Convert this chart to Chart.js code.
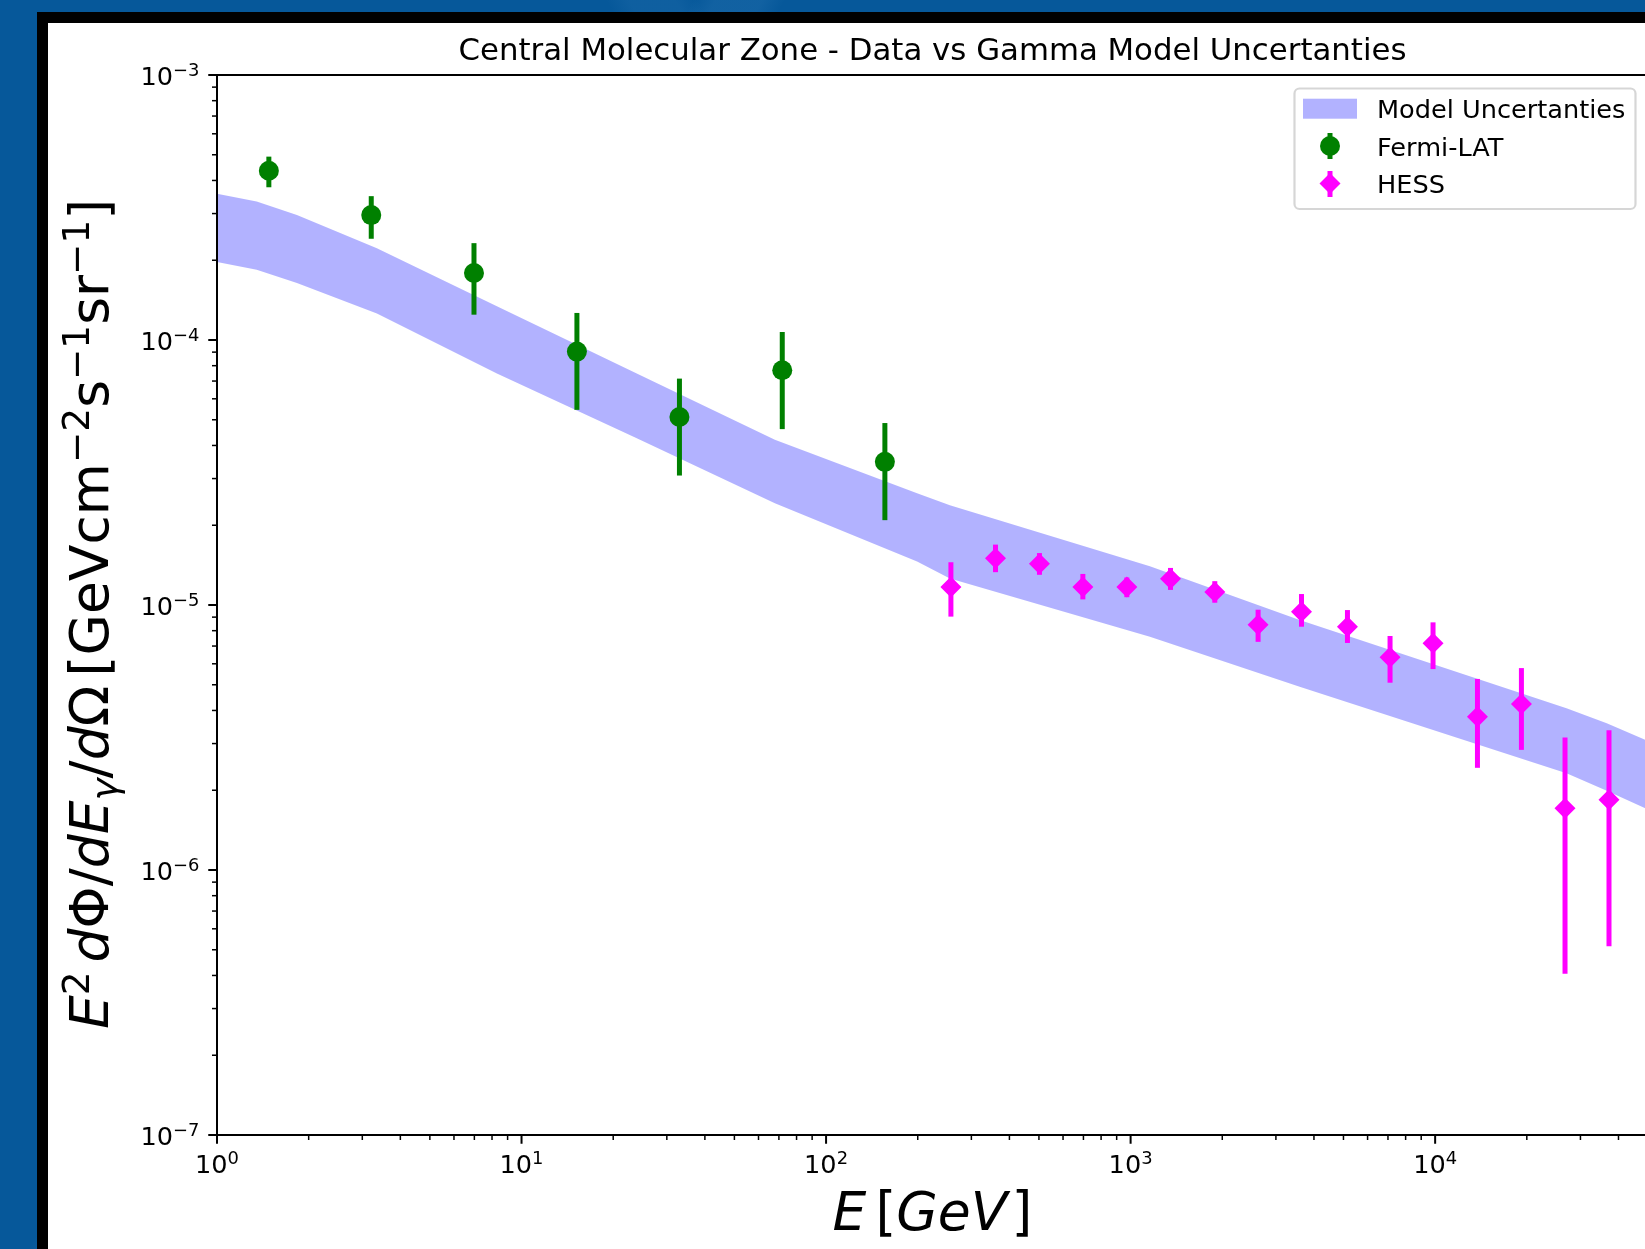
<!DOCTYPE html>
<html>
<head>
<meta charset="utf-8">
<script src="https://cdn.jsdelivr.net/npm/chart.js@4/dist/chart.umd.min.js"></script>
<style>
  html, body { margin: 0; padding: 0; width: 1645px; height: 1249px; overflow: hidden; }
  body {
    background-color: #06589a;
    background-image:
      linear-gradient(118deg, rgba(255,255,255,0) 0 30%, rgba(120,180,230,0.10) 31% 33%, rgba(255,255,255,0) 34% 100%),
      linear-gradient(62deg, rgba(255,255,255,0) 0 55%, rgba(120,180,230,0.08) 56% 58%, rgba(255,255,255,0) 59% 100%),
      linear-gradient(160deg, rgba(255,255,255,0) 0 70%, rgba(120,180,230,0.07) 71% 74%, rgba(255,255,255,0) 75% 100%);
    position: relative;
  }
  #frame { position: absolute; left: 37px; top: 12px; width: 3000px; height: 3000px;
    background: #ffffff; border-left: 11px solid #000; border-top: 11px solid #000; }
  #c { position: absolute; left: 0; top: 0; }
</style>
</head>
<body>
<div id="frame"></div>
<canvas id="c" width="1700" height="1249"></canvas>
<script>
// ---------------- data ----------------
const titleText = 'Central Molecular Zone - Data vs Gamma Model Uncertanties';
const legendLabels = ['Model Uncertanties', 'Fermi-LAT', 'HESS'];

const modelEnergy = [1, 1.35, 1.83, 3.35, 8.3, 23.9, 67.9, 199, 255, 1157, 3590, 27000, 36600, 50000];
const modelHigh = [3.56e-4, 3.33e-4, 2.96e-4, 2.22e-4, 1.34e-4, 7.48e-5, 4.2e-5, 2.64e-5, 2.38e-5, 1.40e-5, 8.77e-6, 4.08e-6, 3.58e-6, 3.07e-6];
const modelLow = [1.97e-4, 1.84e-4, 1.64e-4, 1.26e-4, 7.48e-5, 4.26e-5, 2.42e-5, 1.46e-5, 1.26e-5, 7.59e-6, 4.92e-6, 2.32e-6, 1.99e-6, 1.69e-6];

const fermiEnergy = [1.48, 3.21, 6.98, 15.2, 33.0, 71.8, 156];
const fermiFlux = [4.35e-4, 2.96e-4, 1.79e-4, 9.04e-5, 5.12e-5, 7.69e-5, 3.47e-5];
const fermiHigh = [4.92e-4, 3.49e-4, 2.32e-4, 1.265e-4, 7.15e-5, 1.072e-4, 4.86e-5];
const fermiLow = [3.77e-4, 2.41e-4, 1.246e-4, 5.45e-5, 3.08e-5, 4.61e-5, 2.09e-5];

const hessEnergy = [257, 360, 502, 697, 972, 1352, 1890, 2622, 3640, 5153, 7111, 9842, 13770, 19200, 26700, 37230];
const hessFlux = [1.17e-5, 1.50e-5, 1.43e-5, 1.17e-5, 1.17e-5, 1.256e-5, 1.12e-5, 8.43e-6, 9.44e-6, 8.28e-6, 6.35e-6, 7.17e-6, 3.79e-6, 4.23e-6, 1.71e-6, 1.84e-6];
const hessHigh = [1.45e-5, 1.69e-5, 1.57e-5, 1.31e-5, 1.27e-5, 1.38e-5, 1.23e-5, 9.6e-6, 1.10e-5, 9.57e-6, 7.64e-6, 8.6e-6, 5.26e-6, 5.78e-6, 3.16e-6, 3.37e-6];
const hessLow = [9.04e-6, 1.33e-5, 1.30e-5, 1.05e-5, 1.07e-5, 1.14e-5, 1.02e-5, 7.26e-6, 8.28e-6, 7.19e-6, 5.09e-6, 5.73e-6, 2.43e-6, 2.84e-6, 4.06e-7, 5.16e-7];

const xTickValues = [1, 10, 100, 1000, 10000];
const xTickExponents = ['0', '1', '2', '3', '4'];
const yTickValues = [1e-3, 1e-4, 1e-5, 1e-6, 1e-7];
const yTickExponents = ['\u22123', '\u22124', '\u22125', '\u22126', '\u22127'];

// ---------------- style ----------------
const FONT = "'DejaVu Sans', 'Liberation Sans', sans-serif";
const GREEN = '#008000';
const MAGENTA = '#ff00ff';
const BAND = 'rgba(0,0,255,0.3)';

function pts(xs, ys) { return xs.map((v, i) => ({ x: v, y: ys[i] })); }

function fontStr(size, italic) { return (italic ? 'italic ' : '') + size + 'px ' + FONT; }

// draw a run of text segments (mathtext-like)
function drawMath(ctx, segs, x, y, base, align) {
  let total = 0;
  const items = segs.map(s => {
    const size = base * (s.s || 1);
    ctx.font = fontStr(size, s.i);
    const w = ctx.measureText(s.t).width;
    const gap = (s.gap || 0) * base;
    total += w + gap;
    return { s, size, w, gap };
  });
  let cx = x;
  if (align === 'center') cx = x - total / 2;
  else if (align === 'right') cx = x - total;
  ctx.textAlign = 'left';
  ctx.textBaseline = 'alphabetic';
  items.forEach(it => {
    ctx.font = fontStr(it.size, it.s.i);
    ctx.fillText(it.s.t, cx, y + (it.s.dy || 0) * base);
    cx += it.w + it.gap;
  });
  return total;
}

function diamond(ctx, x, y, r) {
  ctx.beginPath();
  ctx.moveTo(x - r, y); ctx.lineTo(x, y - r); ctx.lineTo(x + r, y); ctx.lineTo(x, y + r);
  ctx.closePath(); ctx.fill();
}

const errorBars = {
  id: 'errorBars',
  beforeDatasetDraw(chart, args) {
    const ds = chart.data.datasets[args.index];
    if (!ds.errLow) return;
    const { ctx, chartArea: a } = chart;
    const xs = chart.scales.x, ys = chart.scales.y;
    ctx.save();
    ctx.beginPath(); ctx.rect(a.left, a.top, a.right - a.left, a.bottom - a.top); ctx.clip();
    ctx.strokeStyle = ds.backgroundColor;
    ctx.lineWidth = 5;
    ctx.lineCap = 'butt';
    ds.data.forEach((p, i) => {
      const px = xs.getPixelForValue(p.x);
      ctx.beginPath();
      ctx.moveTo(px, ys.getPixelForValue(ds.errHigh[i]));
      ctx.lineTo(px, ys.getPixelForValue(ds.errLow[i]));
      ctx.stroke();
    });
    ctx.restore();
  }
};

const decor = {
  id: 'decor',
  afterDraw(chart) {
    const { ctx, chartArea: a } = chart;
    const xs = chart.scales.x, ys = chart.scales.y;
    ctx.save();
    ctx.fillStyle = '#000'; ctx.strokeStyle = '#000';
    // spines
    ctx.lineWidth = 2;
    ctx.strokeRect(a.left, a.top, a.right - a.left, a.bottom - a.top);
    // ticks
    const MAJ = 8.75, MIN = 5;
    for (let p = 0; p <= 4; p++) {
      for (let m = 1; m <= 9; m++) {
        const v = m * Math.pow(10, p);
        if (v > xs.max) break;
        const px = xs.getPixelForValue(v);
        ctx.lineWidth = m === 1 ? 2 : 1.5;
        ctx.beginPath(); ctx.moveTo(px, a.bottom); ctx.lineTo(px, a.bottom + (m === 1 ? MAJ : MIN)); ctx.stroke();
      }
    }
    for (let p = -7; p <= -4; p++) {
      for (let m = 1; m <= 9; m++) {
        const v = m * Math.pow(10, p);
        const py = ys.getPixelForValue(v);
        ctx.lineWidth = m === 1 ? 2 : 1.5;
        ctx.beginPath(); ctx.moveTo(a.left, py); ctx.lineTo(a.left - (m === 1 ? MAJ : MIN), py); ctx.stroke();
      }
    }
    const ptop = ys.getPixelForValue(1e-3);
    ctx.lineWidth = 2;
    ctx.beginPath(); ctx.moveTo(a.left, ptop); ctx.lineTo(a.left - MAJ, ptop); ctx.stroke();

    // tick labels
    const TS = 25.6;
    xTickValues.forEach((v, i) => {
      const px = xs.getPixelForValue(v);
      drawMath(ctx, [{ t: '10' }, { t: xTickExponents[i], s: 0.7, dy: -0.36 }], px, a.bottom + 38, TS, 'center');
    });
    yTickValues.forEach((v, i) => {
      const py = ys.getPixelForValue(v);
      drawMath(ctx, [{ t: '10' }, { t: yTickExponents[i], s: 0.7, dy: -0.36 }], a.left - 17.5, py + 10, TS, 'right');
    });

    // x axis label
    const LS = 53.5;
    drawMath(ctx, [
      { t: 'E', i: 1, gap: 0.17 }, { t: '[' }, { t: 'GeV', i: 1, gap: 0.08 }, { t: ']' }
    ], (a.left + a.right) / 2, 1230, LS, 'center');

    // y axis label (rotated)
    ctx.save();
    ctx.translate(108, 614);
    ctx.rotate(-Math.PI / 2);
    drawMath(ctx, [
      { t: 'E', i: 1 }, { t: '2', s: 0.7, dy: -0.36, gap: 0.17 },
      { t: 'd', i: 1 }, { t: '\u03A6' }, { t: '/' }, { t: 'dE', i: 1 },
      { t: '\u03B3', i: 1, s: 0.7, dy: 0.17 }, { t: '/' }, { t: 'd', i: 1 }, { t: '\u03A9', gap: 0.17 },
      { t: '[' }, { t: 'GeVcm' }, { t: '\u22122', s: 0.7, dy: -0.36 }, { t: 's' },
      { t: '\u22121', s: 0.7, dy: -0.36 }, { t: 'sr' }, { t: '\u22121', s: 0.7, dy: -0.36 }, { t: ']' }
    ], 0, 0, LS, 'center');
    ctx.restore();

    // title
    ctx.font = fontStr(30.8, false);
    ctx.textAlign = 'center'; ctx.textBaseline = 'alphabetic';
    ctx.fillText(titleText, (a.left + a.right) / 2, 60);

    // legend
    const lx = 1294.5, ly = 88.5, lw = 341, lh = 120.5;
    ctx.beginPath();
    ctx.roundRect(lx, ly, lw, lh, 5);
    ctx.fillStyle = 'rgba(255,255,255,0.8)'; ctx.fill();
    ctx.lineWidth = 2.2; ctx.strokeStyle = 'rgba(204,204,204,0.8)'; ctx.stroke();
    ctx.fillStyle = BAND;
    ctx.fillRect(1303, 98.7, 54, 20);
    ctx.strokeStyle = GREEN; ctx.lineWidth = 5;
    ctx.beginPath(); ctx.moveTo(1330, 133); ctx.lineTo(1330, 159); ctx.stroke();
    ctx.fillStyle = GREEN;
    ctx.beginPath(); ctx.arc(1330, 146, 10, 0, Math.PI * 2); ctx.fill();
    ctx.strokeStyle = MAGENTA;
    ctx.beginPath(); ctx.moveTo(1330, 171); ctx.lineTo(1330, 197); ctx.stroke();
    ctx.fillStyle = MAGENTA;
    diamond(ctx, 1330, 183.5, 10.5);
    ctx.fillStyle = '#000';
    ctx.font = fontStr(25.6, false);
    ctx.textAlign = 'left';
    ctx.fillText(legendLabels[0], 1377, 118);
    ctx.fillText(legendLabels[1], 1377, 156);
    ctx.fillText(legendLabels[2], 1377, 193);
    ctx.restore();
  }
};

new Chart(document.getElementById('c'), {
  type: 'scatter',
  data: {
    datasets: [
      { type: 'line', label: legendLabels[0], data: pts(modelEnergy, modelHigh), fill: '+1',
        backgroundColor: BAND, borderColor: 'rgba(0,0,0,0)', borderWidth: 0, pointRadius: 0, tension: 0, order: 3 },
      { type: 'line', label: 'lower', data: pts(modelEnergy, modelLow), fill: false,
        backgroundColor: BAND, borderColor: 'rgba(0,0,0,0)', borderWidth: 0, pointRadius: 0, tension: 0, order: 3 },
      { type: 'scatter', label: legendLabels[1], data: pts(fermiEnergy, fermiFlux),
        errHigh: fermiHigh, errLow: fermiLow, showLine: false,
        pointStyle: 'circle', pointRadius: 10, backgroundColor: GREEN, borderWidth: 0, order: 1 },
      { type: 'scatter', label: legendLabels[2], data: pts(hessEnergy, hessFlux),
        errHigh: hessHigh, errLow: hessLow, showLine: false,
        pointStyle: 'rectRot', pointRadius: 10.5, backgroundColor: MAGENTA, borderWidth: 0, order: 0 }
    ]
  },
  options: {
    responsive: false,
    animation: false,
    devicePixelRatio: 1,
    layout: { padding: { left: 217, top: 75, right: 52, bottom: 114 } },
    plugins: { legend: { display: false }, tooltip: { enabled: false }, title: { display: false } },
    scales: {
      x: { type: 'logarithmic', min: 1, max: 50000, display: false },
      y: { type: 'logarithmic', min: 1e-7, max: 1e-3, display: false }
    }
  },
  plugins: [errorBars, decor]
});
</script>
</body>
</html>
